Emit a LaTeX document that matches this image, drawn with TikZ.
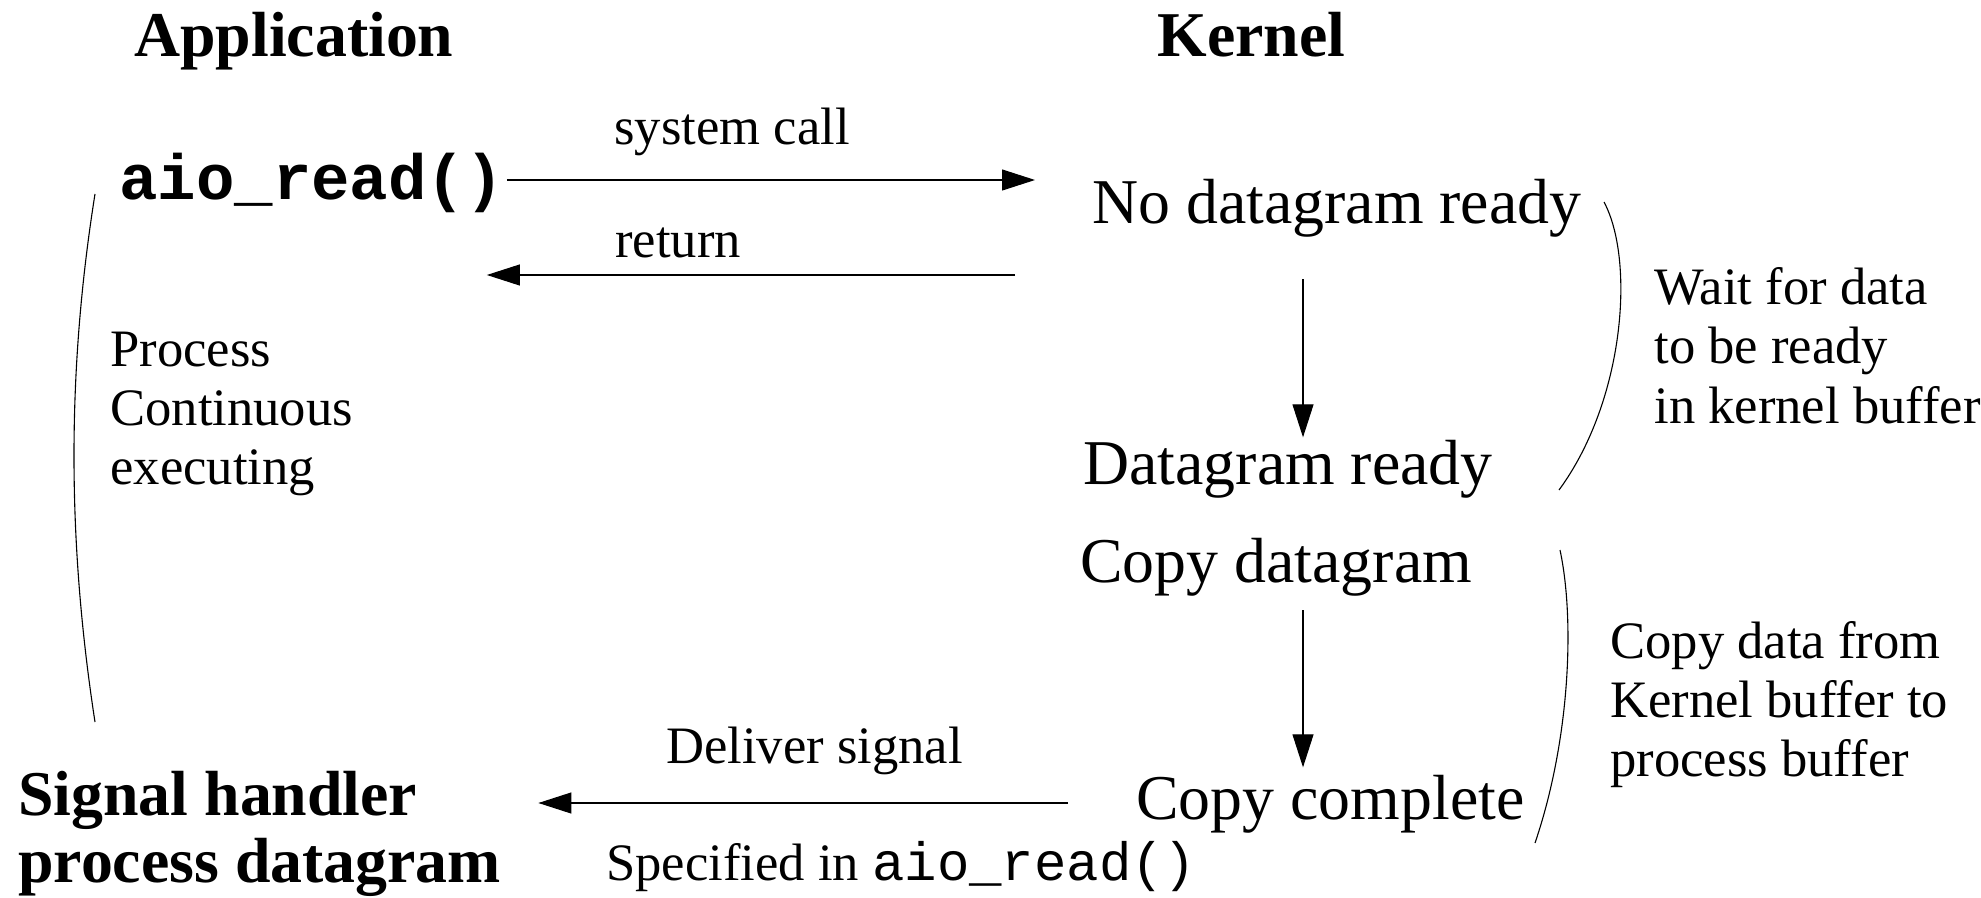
\documentclass[tikz,border=0pt]{standalone}
\usepackage{fontspec}
\setmainfont{Liberation Serif}
\setmonofont{Liberation Mono}
\usetikzlibrary{arrows.meta}
\begin{document}
\begin{tikzpicture}[x=0.5pt,y=-0.5pt,
  txt/.style={inner sep=0pt, anchor=base west, align=left},
  big/.style={txt, font=\fontsize{31.9}{33.5}\selectfont},
  bigb/.style={txt, font=\fontsize{31.9}{33.5}\selectfont\bfseries},
  med/.style={txt, font=\fontsize{26.3}{29.5}\selectfont},
  arr/.style={-{Triangle[length=16.5pt,width=10.5pt]}, line width=0.55pt},
  brace/.style={line width=0.55pt}]
\useasboundingbox (0,0) rectangle (1981,898);
% headings
\node[bigb] (app) at (134,57) {Application};
\node[bigb] (kern) at (1157,57) {Kernel};
% application side
\node[txt, font=\fontsize{32}{36}\selectfont\ttfamily\bfseries] (aio) at (119,200) {aio\_read()};
\node[med] (proc) at (110,485) {Process\\Continuous\\executing};
\node[bigb] (sig) at (18,882) {Signal handler\\process datagram};
% kernel side
\node[big] (nodg) at (1092,224) {No datagram ready};
\node[big] (dgr) at (1083,485) {Datagram ready};
\node[big] (cpdg) at (1080,582) {Copy datagram};
\node[big] (cpc) at (1136,819) {Copy complete};
\node[med] (wait) at (1654,423) {Wait for data\\to be ready\\in kernel buffer};
\node[med] (cptxt) at (1610,776) {Copy data from\\Kernel buffer to\\process buffer};
% arrow labels
\node[med] (lsys) at (614,145) {system call};
\node[med] (lret) at (615,258) {return};
\node[med] (ldel) at (666,763) {Deliver signal};
\node[med] (lspec) at (606,880) {Specified in {\fontsize{27}{30}\selectfont\ttfamily aio\_read()}};
% arrows
\draw[arr, shorten <=1.5pt, shorten >=28.5pt] (aio.east |- 0,180) -- (nodg.west |- 0,180);
\draw[arr, shorten <=38.5pt, shorten >=-8.5pt] (nodg.west |- 0,275) -- (aio.east |- 0,275);
\draw[arr, shorten <=20.5pt, shorten >=1.5pt] (nodg.south -| 1303,0) -- (dgr.north -| 1303,0);
\draw[arr, shorten <=7pt, shorten >=3.5pt] (cpdg.south -| 1303,0) -- (cpc.north -| 1303,0);
\draw[arr, shorten <=34pt, shorten >=18.5pt] (cpc.west |- 0,803) -- (sig.east |- 0,803);
% braces
\draw[brace] (95,194) .. controls (67,370) and (67,540) .. (95,722);
\draw[brace] (1604,202) .. controls (1635,260) and (1625,400) .. (1559,490);
\draw[brace] (1560,550) .. controls (1575,620) and (1570,740) .. (1535,843);
\end{tikzpicture}
\end{document}
